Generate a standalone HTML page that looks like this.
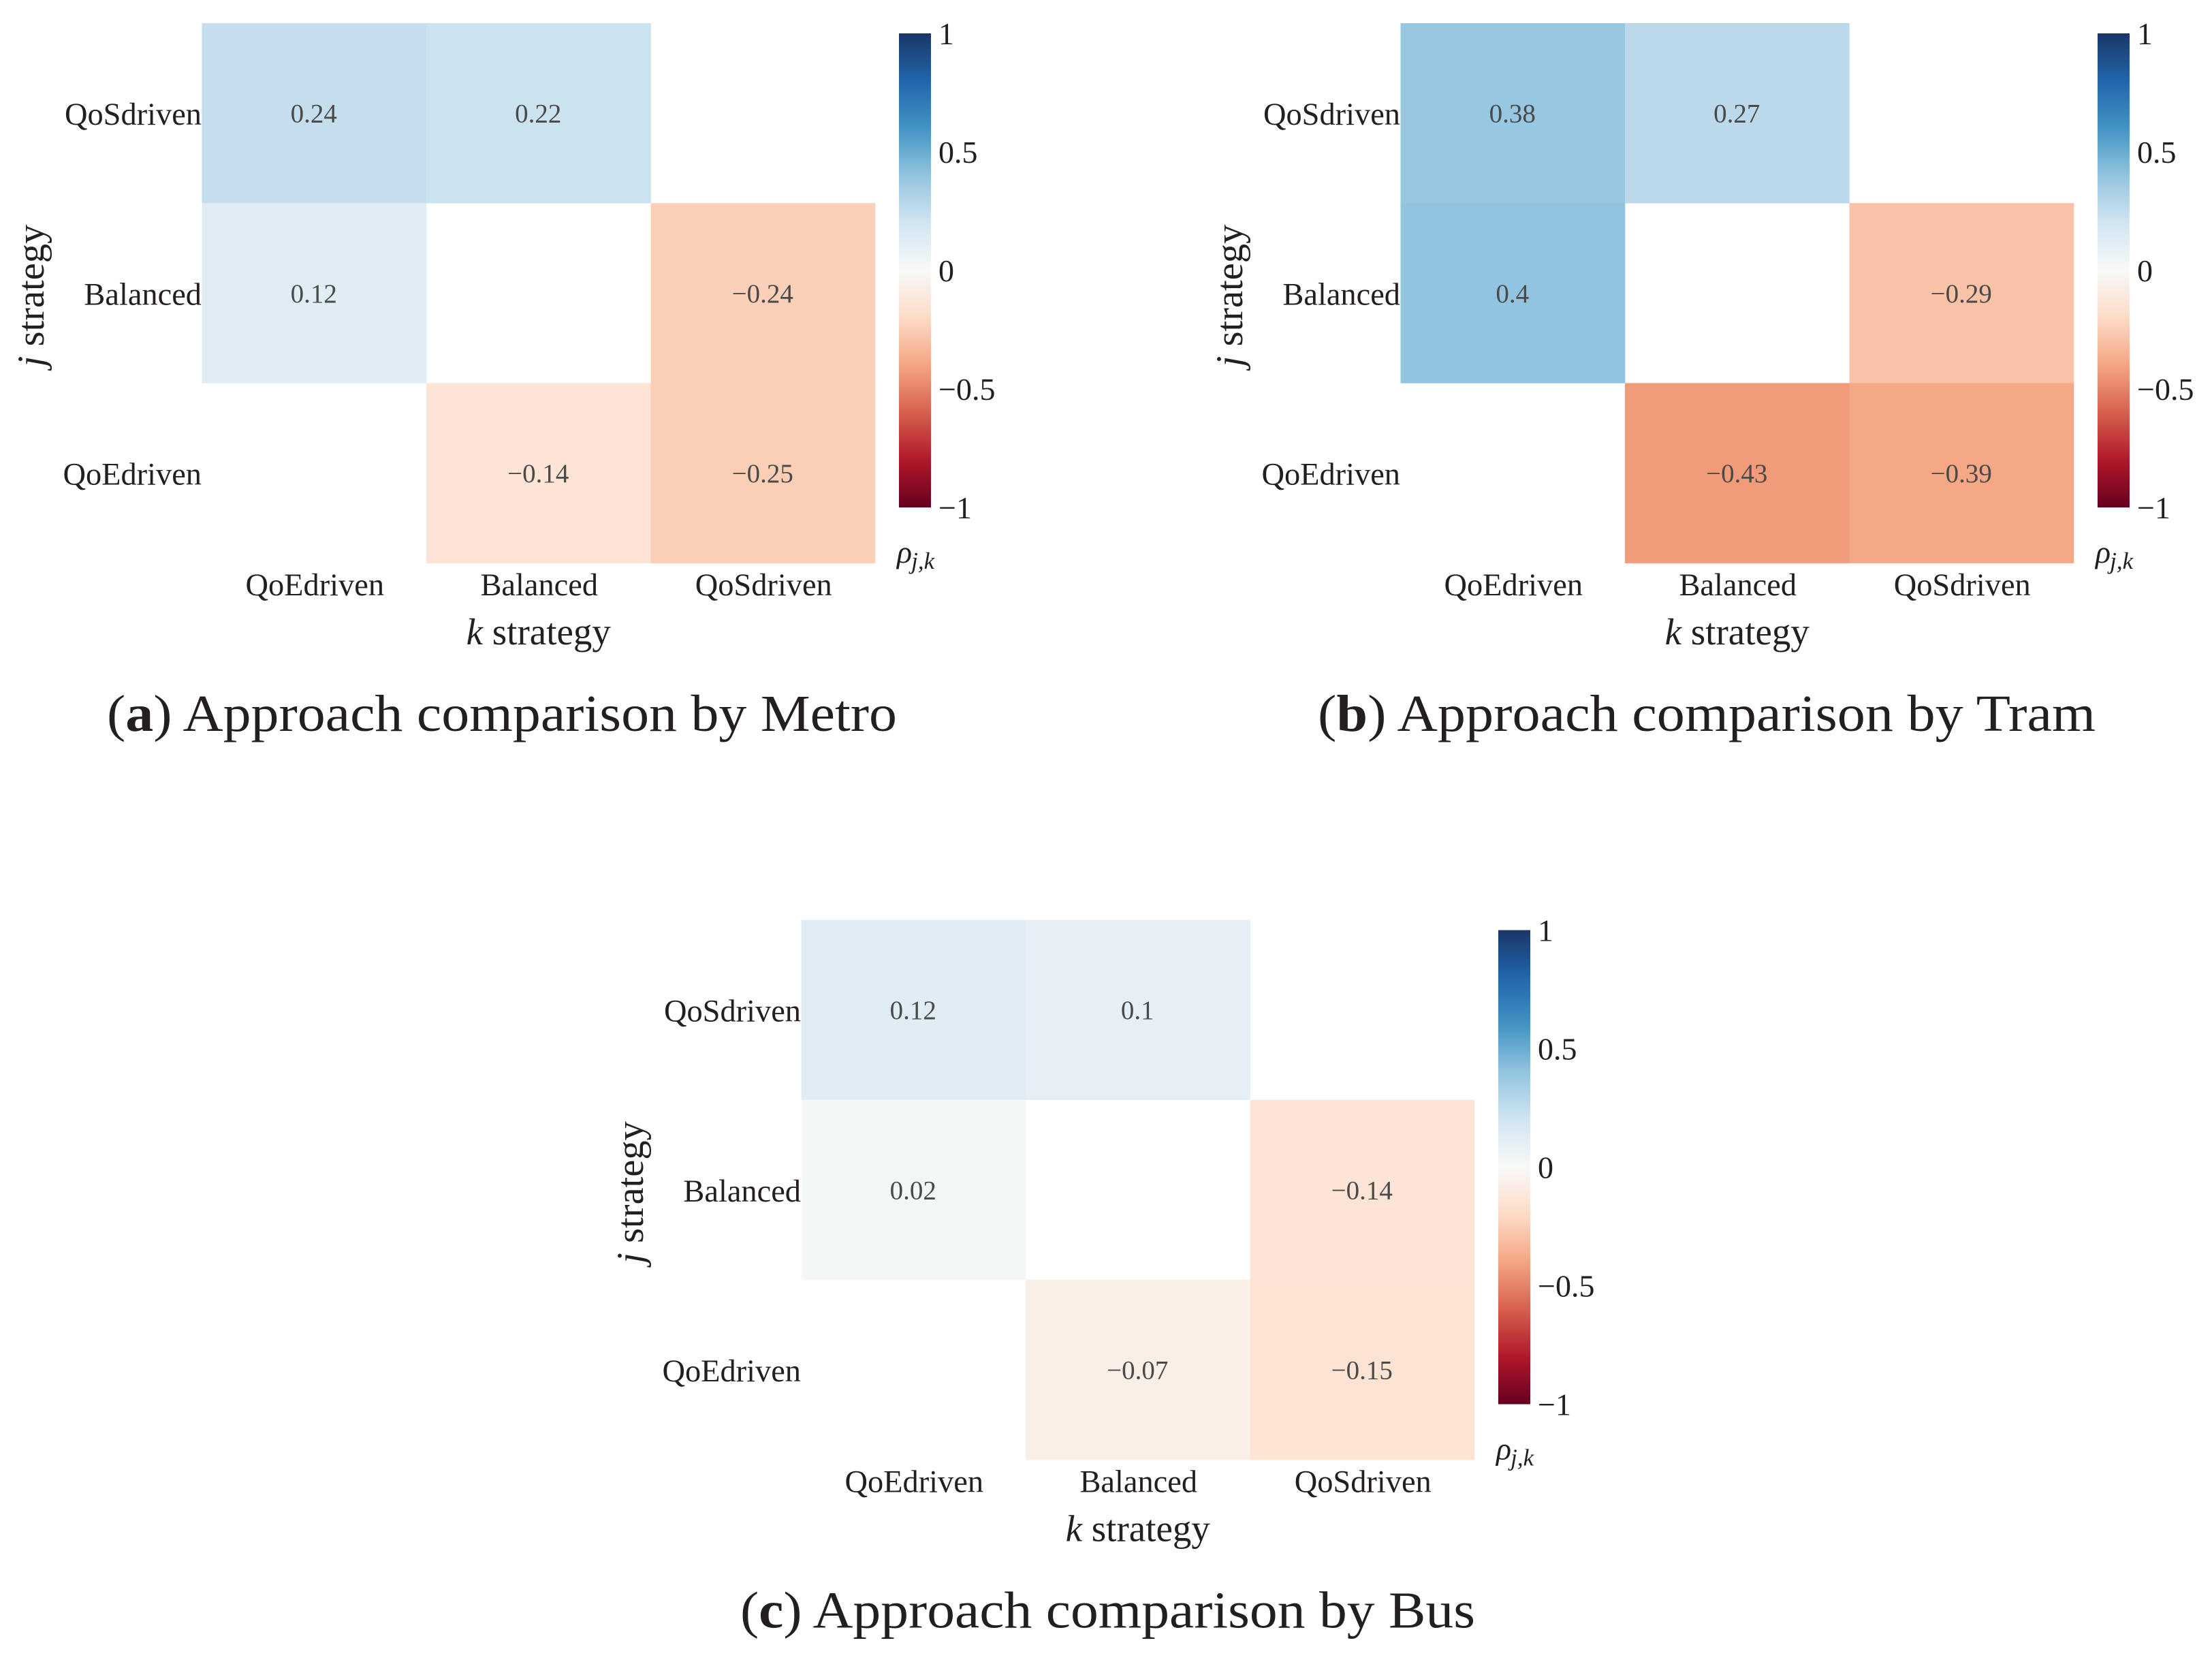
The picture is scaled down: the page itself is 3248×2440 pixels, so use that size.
<!DOCTYPE html>
<html lang="en">
<head>
<meta charset="utf-8">
<title>Approach comparison heatmaps</title>
<style>
html,body{margin:0;padding:0;background:#fff;}
svg{display:block;font-family:"Liberation Serif",serif;}
</style>
</head>
<body>
<svg id="figure" xmlns="http://www.w3.org/2000/svg" width="3248" height="2440" viewBox="0 0 3248 2440">
<rect x="0" y="0" width="3248" height="2440" fill="#ffffff"></rect>
</svg>
<script>
const rowLabels = ['QoSdriven', 'Balanced', 'QoEdriven'];
const colLabels = ['QoEdriven', 'Balanced', 'QoSdriven'];
const metroValues = [[0.24, 0.22, null], [0.12, null, -0.24], [null, -0.14, -0.25]];
const tramValues = [[0.38, 0.27, null], [0.4, null, -0.29], [null, -0.43, -0.39]];
const busValues = [[0.12, 0.1, null], [0.02, null, -0.14], [null, -0.07, -0.15]];
const colorbarTicks = [1, 0.5, 0, -0.5, -1];
const colormapStops = ['#67001f', '#b2182b', '#d6604d', '#f4a582', '#fddbc7', '#f8f9f8', '#d1e5f1', '#92c4df', '#4393c3', '#2166ac', '#1a3667'];

const NS = 'http://www.w3.org/2000/svg';
const svg = document.getElementById('figure');

function make(parent, tag, attrs, text) {
  const node = document.createElementNS(NS, tag);
  for (const key in attrs) node.setAttribute(key, attrs[key]);
  if (text !== undefined) node.textContent = text;
  parent.appendChild(node);
  return node;
}
function hexToRgb(hex) {
  return [1, 3, 5].map(i => parseInt(hex.substr(i, 2), 16));
}
function colorFor(v) {
  const t = Math.max(0, Math.min(1, (v + 1) / 2)) * (colormapStops.length - 1);
  const i = Math.min(Math.floor(t), colormapStops.length - 2);
  const f = t - i;
  const a = hexToRgb(colormapStops[i]);
  const b = hexToRgb(colormapStops[i + 1]);
  return 'rgb(' + a.map((c, k) => Math.round(c + (b[k] - c) * f)).join(',') + ')';
}
function formatValue(v) {
  return String(v).replace('-', '\u2212');
}

const defs = make(svg, 'defs', {});
const gradient = make(defs, 'linearGradient', {id: 'rdbu', x1: 0, y1: 1, x2: 0, y2: 0});
colormapStops.forEach((c, i) => {
  make(gradient, 'stop', {offset: i / (colormapStops.length - 1), 'stop-color': c});
});

function drawPanel(values, ox, oy, letter, captionRest, captionX, captionWidth) {
  const xBand = i => ox + 296.5 + i * 329.5;
  const yBand = i => oy + 34 + i * 264.2;
  const bandW = 329.5;
  const bandH = 264.2;
  const cbarY = v => oy + 397 - v * 348;

  const panel = make(svg, 'g', {});
  
  

  values.forEach((row, r) => {
    row.forEach((v, c) => {
      if (v === null) return;
      const cell = make(panel, 'rect', {x: xBand(c), y: yBand(r), width: bandW + 0.3, height: bandH + 0.3, fill: colorFor(v)});
      
      
      const note = make(panel, 'text', {x: xBand(c) + bandW / 2 - 0.5, y: yBand(r) + bandH / 2 + 13.5, 'text-anchor': 'middle', 'font-size': 39, fill: '#4a4a4a'}, formatValue(v));
      
      
    });
  });

  rowLabels.forEach((label, r) => {
    const tick = make(panel, 'text', {x: xBand(0) - 0.5, y: yBand(r) + bandH / 2 + 17, 'text-anchor': 'end', 'font-size': 46.4, fill: '#231f20'}, label);
    
    
  });
  colLabels.forEach((label, c) => {
    const tick = make(panel, 'text', {x: xBand(c) + bandW / 2 + 1, y: oy + 874, 'text-anchor': 'middle', 'font-size': 46.4, fill: '#231f20'}, label);
    
    
  });

  const xTitle = make(panel, 'text', {x: xBand(1) + bandW / 2, y: oy + 946, 'text-anchor': 'middle', 'font-size': 55, fill: '#231f20'});
  
  
  make(xTitle, 'tspan', {'font-style': 'italic'}, 'k');
  make(xTitle, 'tspan', {}, ' strategy');

  const yTitle = make(panel, 'text', {x: 0, y: 0, 'text-anchor': 'middle', 'font-size': 56.5, fill: '#231f20', transform: 'translate(' + (ox + 64) + ' ' + (oy + 434) + ') rotate(-90)'});
  
  
  make(yTitle, 'tspan', {'font-style': 'italic'}, 'j');
  make(yTitle, 'tspan', {}, ' strategy');

  const bar = make(panel, 'rect', {x: ox + 1320, y: cbarY(1), width: 47, height: cbarY(-1) - cbarY(1), fill: 'url(#rdbu)'});
  
  

  colorbarTicks.forEach(v => {
    const tick = make(panel, 'text', {x: ox + 1378, y: cbarY(v) + 16, 'font-size': 46, fill: '#231f20'}, formatValue(v));
    
    
  });

  const cbarTitle = make(panel, 'text', {x: ox + 1317, y: oy + 826, 'font-size': 46, 'font-style': 'italic', fill: '#231f20'});
  
  
  make(cbarTitle, 'tspan', {}, '\u03C1');
  make(cbarTitle, 'tspan', {'font-size': 35, dy: 9, dx: -1}, 'j,k');

  const caption = make(panel, 'text', {x: captionX, y: oy + 1073, 'font-size': 76, fill: '#231f20', textLength: captionWidth, lengthAdjust: 'spacingAndGlyphs'});
  
  
  make(caption, 'tspan', {}, '(');
  make(caption, 'tspan', {'font-weight': 'bold'}, letter);
  make(caption, 'tspan', {}, ') ' + captionRest);
}

drawPanel(metroValues, 0, 0, 'a', 'Approach comparison by Metro', 157, 1160);
drawPanel(tramValues, 1760, 0, 'b', 'Approach comparison by Tram', 1935, 1142);
drawPanel(busValues, 880, 1316.5, 'c', 'Approach comparison by Bus', 1087, 1079);
</script>
</body>
</html>
